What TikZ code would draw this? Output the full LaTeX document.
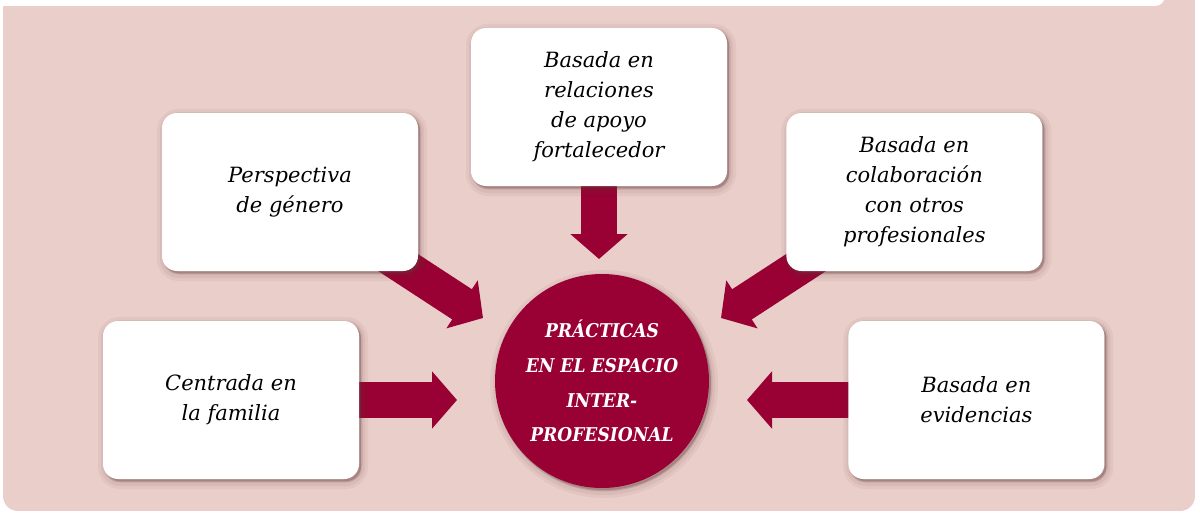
\documentclass[tikz,border=0pt]{standalone}
\usepackage{fontspec}
\setmainfont{DejaVu Serif}
\newfontfamily\hubfont{DejaVu Serif Condensed}
\usetikzlibrary{arrows.meta, positioning}
\definecolor{bgpink}{RGB}{234,206,202}
\definecolor{crimson}{RGB}{153,0,51}
\definecolor{shade}{RGB}{100,60,60}
\pgfdeclarelayer{back}
\pgfdeclarelayer{mid}
\pgfsetlayers{back,mid,main}

\begin{document}
\begin{tikzpicture}[x=1pt, y=-1pt,
    softshadow/.style={
        preaction={fill=shade, fill opacity=0.06, draw=shade, draw opacity=0.06, line width=14pt,
            transform canvas={xshift=2pt, yshift=-3pt}},
        preaction={fill=shade, fill opacity=0.08, draw=shade, draw opacity=0.08, line width=8pt,
            transform canvas={xshift=2pt, yshift=-3pt}},
        preaction={fill=shade, fill opacity=0.25, draw=shade, draw opacity=0.12, line width=3pt,
            transform canvas={xshift=2pt, yshift=-2pt}}},
    box/.style={rectangle, rounded corners=15pt, fill=white, minimum width=256pt, minimum height=158pt,
        align=center, font=\fontsize{21}{30}\selectfont\itshape, softshadow},
    hub/.style={circle, fill=crimson, minimum size=214pt, text=white, align=center,
        font=\fontsize{19}{34.7}\selectfont\hubfont\bfseries\itshape, softshadow},
    bigarrow/.style={crimson, line width=36pt, -{Triangle[width=56pt, length=25pt]}}]
    \useasboundingbox (0,0) rectangle (1195,511);

    % Background panel
    \begin{pgfonlayer}{back}
        \fill[bgpink, rounded corners=15pt] (3,-30) rectangle (1195,511);
        \fill[white, rounded corners=10pt] (-20,-30) rectangle (1165,6);
    \end{pgfonlayer}

    % Central practice
    \node (ctr) [hub] at (602,381) {PRÁCTICAS\\EN EL ESPACIO\\INTER-\\PROFESIONAL};

    % Surrounding features
    \node (rel) [box] at (599,107) {Basada en\\relaciones\\de apoyo\\fortalecedor};
    \node (gen) [box] at (290,192) {Perspectiva\\de género};
    \node (col) [box, right=368pt of gen] {Basada en\\colaboración\\con otros\\profesionales};
    \node (fam) [box] at (231,400) {Centrada en\\la familia};
    \node (evi) [box, right=489pt of fam] {Basada en\\evidencias};

    % Arrow tips near the centre
    \coordinate (tiprel) at (599,259);
    \coordinate (tipgen) at (483,318);
    \coordinate (tipcol) at (721,318);
    \coordinate (tipfam) at (457,400);
    \coordinate (tipevi) at (747,400);

    % Arrows pointing to the centre
    \begin{pgfonlayer}{mid}
        \draw[bigarrow] (rel.center) -- (tiprel);
        \draw[bigarrow] (gen.center) -- (tipgen);
        \draw[bigarrow] (col.center) -- (tipcol);
        \draw[bigarrow] (fam.center) -- (tipfam);
        \draw[bigarrow] (evi.center) -- (tipevi);
    \end{pgfonlayer}
\end{tikzpicture}
\end{document}
